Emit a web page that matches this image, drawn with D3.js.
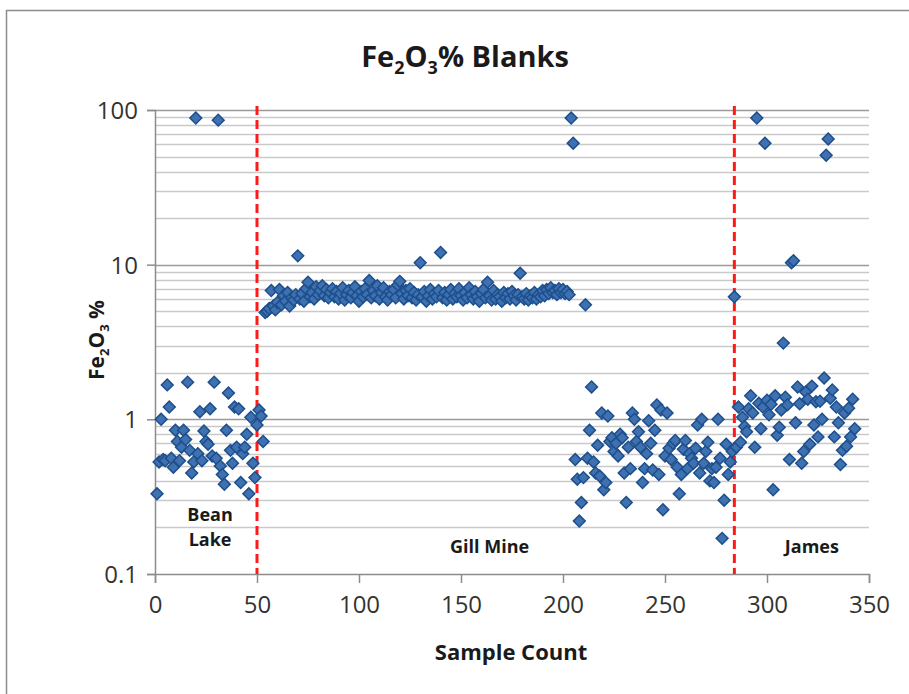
<!DOCTYPE html>
<html>
<head>
<meta charset="utf-8">
<script src="https://cdn.jsdelivr.net/npm/d3@7"></script>
<style>
  html, body { margin: 0; padding: 0; background: #fff; }
  svg { display: block; font-family: "Open Sans", "Liberation Sans", sans-serif; }
</style>
</head>
<body>
<svg id="chart" width="909" height="694"></svg>
<script>
// Fe2O3 % measured in blank samples, by sample count, grouped by project
const beanLakeStart = 1;
const beanLake = [
  0.33, 0.53, 1.0, 0.55, 0.54, 1.67, 1.2, 0.56, 0.49, 0.85,
  0.72, 0.54, 0.66, 0.85, 0.74, 1.74, 0.63, 0.45, 0.53, 88.7,
  0.6, 1.12, 0.54, 0.84, 0.72, 0.69, 1.17, 0.58, 1.74, 0.56,
  86, 0.5, 0.44, 0.38, 0.85, 1.48, 0.63, 0.52, 1.2, 0.66,
  1.17, 0.39, 0.6, 0.66, 0.8, 0.33, 1.03, 0.52, 0.42
];

const gillMineStart = 50;
const gillMine = [
  0.92, 1.15, 1.05, 0.72, 4.9, 5.0, 5.2, 6.8, 5.4, 5.1,
  5.7, 6.9, 5.5, 6.3, 5.8, 6.6, 5.4, 6.1, 5.9, 6.4,
  11.4, 6.0, 6.5, 5.8, 7.0, 7.7, 6.2, 6.6, 6.0, 7.2,
  6.4, 6.8, 7.3, 6.3, 6.9, 6.1, 6.6, 7.0, 6.2, 6.7,
  6.0, 6.5, 7.1, 5.9, 6.4, 6.8, 6.1, 6.6, 7.2, 6.3,
  5.8, 6.7, 6.2, 7.0, 6.4, 7.9, 6.1, 6.8, 6.3, 7.3,
  6.0, 6.6, 7.1, 6.2, 5.9, 6.7, 6.4, 6.9, 6.1, 7.4,
  7.8, 6.5, 6.0, 6.8, 6.3, 7.0, 6.1, 6.6, 5.9, 6.4,
  10.3, 6.2, 6.7, 5.8, 6.3, 6.9, 6.0, 6.5, 6.2, 6.8,
  12.0, 6.1, 6.6, 5.9, 6.4, 6.9, 6.0, 6.5, 6.2, 7.0,
  6.3, 5.9, 6.6, 6.1, 7.1, 6.4, 6.0, 6.7, 6.2, 5.8,
  6.5, 6.9, 6.1, 7.7, 6.3, 5.9, 6.8, 6.0, 6.4, 6.2,
  5.8, 6.6, 6.1, 6.5, 6.0, 6.7, 6.3, 5.9, 6.4, 8.8,
  6.2, 6.0, 6.5, 5.9, 6.3, 6.1, 6.6, 6.0, 6.4, 6.2,
  6.8, 6.3, 6.9, 6.5, 7.1, 6.6, 6.8, 6.4, 7.0, 6.6,
  6.9, 6.5, 6.7, 6.4, 88.7, 61, 0.55, 0.41, 0.22, 0.29,
  0.42, 5.5, 0.56, 0.85, 1.62, 0.53, 0.45, 0.68, 0.43, 1.1,
  0.35, 0.39, 1.05, 0.72, 0.76, 0.62, 0.7, 0.58, 0.8, 0.76,
  0.45, 0.29, 0.66, 0.48, 1.1, 1.0, 0.72, 0.83, 0.66, 0.39,
  0.48, 0.6, 0.98, 0.7, 0.47, 0.85, 1.24, 0.44, 1.15, 0.26,
  0.58, 1.1, 0.65, 0.55, 0.7, 0.73, 0.49, 0.33, 0.44, 0.64,
  0.73, 0.48, 0.6, 0.56, 0.52, 0.65, 0.92, 0.45, 1.0, 0.52,
  0.62, 0.71, 0.4, 0.48, 0.39, 0.49, 1.0, 0.56, 0.17, 0.3,
  0.69, 0.44, 0.53, 0.62
];

const jamesStart = 284;
const james = [
  6.2, 0.66, 1.2, 0.71, 1.03, 0.9, 0.83, 1.17, 1.42, 1.1,
  0.66, 88.7, 1.27, 0.87, 1.2, 61, 1.33, 1.07, 1.25, 0.35,
  1.42, 0.79, 0.89, 1.15, 3.11, 1.39, 1.24, 0.55, 10.3, 10.6,
  0.95, 1.62, 1.26, 0.52, 0.62, 1.5, 1.35, 0.69, 1.64, 0.92,
  1.3, 0.77, 1.31, 1.0, 1.85, 51, 65, 1.37, 1.55, 0.77,
  1.2, 0.95, 0.51, 0.63, 1.1, 0.67, 1.18, 0.77, 1.35, 0.87
];

// project boundaries (sample count) and region labels
const boundaries = [50, 284];
const regionLabels = [
  { lines: ["Bean", "Lake"], x: 27 },
  { lines: ["Gill Mine"], x: 164 },
  { lines: ["James"], x: 322 }
];

const xTicks = [0, 50, 100, 150, 200, 250, 300, 350];
const yTicks = [0.1, 1, 10, 100];

const svg = d3.select("#chart");
const W = 909, H = 694;
const plotLeft = 155, plotRight = 869, plotTop = 110, plotBottom = 574;

svg.append("rect").attr("width", W).attr("height", H).attr("fill", "#fff");
// chart frame
svg.append("rect")
  .attr("x", 6.5).attr("y", 10.5).attr("width", 1200).attr("height", 1200)
  .attr("fill", "none").attr("stroke", "#8c8c8c").attr("stroke-width", 1.5);

const x = d3.scaleLinear().domain([0, 350]).range([plotLeft, plotRight]);
const y = d3.scaleLog().domain([0.1, 100]).range([plotBottom, plotTop]);

// gridlines: minor 2..9 within each decade, then major decades
const minor = [];
[0.1, 1, 10].forEach(d => { for (let k = 2; k <= 9; k++) minor.push(+(d * k).toFixed(3)); });
svg.append("g").selectAll("line").data(minor).join("line")
  .attr("x1", plotLeft).attr("x2", plotRight)
  .attr("y1", d => Math.round(y(d)) + 0.5).attr("y2", d => Math.round(y(d)) + 0.5)
  .attr("stroke", "#c9c9c9").attr("stroke-width", 1.3);
svg.append("g").selectAll("line").data([1, 10, 100]).join("line")
  .attr("x1", plotLeft).attr("x2", plotRight)
  .attr("y1", d => Math.round(y(d)) + 0.5).attr("y2", d => Math.round(y(d)) + 0.5)
  .attr("stroke", "#9a9a9a").attr("stroke-width", 1.5);

// axes
const yAxis = d3.axisLeft(y).tickValues(yTicks).tickFormat(d => String(d)).tickSize(8).tickPadding(9);
const gy = svg.append("g").attr("transform", `translate(${plotLeft},0)`).call(yAxis);
const xAxis = d3.axisBottom(x).tickValues(xTicks).tickFormat(d3.format("d")).tickSize(9).tickPadding(13);
const gx = svg.append("g").attr("transform", `translate(0,${plotBottom})`).call(xAxis);
[gx, gy].forEach(g => {
  g.select(".domain").attr("stroke", "#8c8c8c").attr("stroke-width", 1.5);
  g.selectAll(".tick line").attr("stroke", "#8c8c8c").attr("stroke-width", 1.5);
  g.selectAll(".tick text").attr("fill", "#333").attr("font-size", 24)
    .attr("font-family", "'Open Sans', sans-serif");
});
gy.selectAll(".tick text").attr("dy", "0.35em");

// project boundary lines
svg.append("g").selectAll("line").data(boundaries).join("line")
  .attr("x1", d => x(d)).attr("x2", d => x(d))
  .attr("y1", y(100) - 4).attr("y2", plotBottom)
  .attr("stroke", "#ff1a1a").attr("stroke-width", 3)
  .attr("stroke-dasharray", "9,5");

// points
const points = [];
beanLake.forEach((v, i) => points.push({ n: beanLakeStart + i, v }));
gillMine.forEach((v, i) => points.push({ n: gillMineStart + i, v }));
james.forEach((v, i) => points.push({ n: jamesStart + i, v }));

const diamond = d3.symbol().type(d3.symbolSquare).size(70);
svg.append("g").selectAll("path").data(points).join("path")
  .attr("d", diamond)
  .attr("transform", d => `translate(${x(d.n)},${y(d.v)}) rotate(45)`)
  .attr("fill", "#3f70b0").attr("stroke", "#1c4f8c").attr("stroke-width", 1.5);

// region labels
const lab = svg.append("g").attr("font-weight", "bold").attr("font-size", 18)
  .attr("fill", "#1a1a1a").attr("text-anchor", "middle");
regionLabels.forEach(r => {
  const n = r.lines.length;
  r.lines.forEach((t, i) => {
    lab.append("text").attr("x", x(r.x))
      .attr("y", n === 1 ? 553 : 521 + i * 25).text(t);
  });
});

// title with subscripts
const title = svg.append("text").attr("x", 465).attr("y", 67)
  .attr("text-anchor", "middle").attr("font-size", 29).attr("font-weight", "bold")
  .attr("fill", "#1a1a1a");
title.append("tspan").text("Fe");
title.append("tspan").text("2").attr("font-size", 18).attr("dy", 7);
title.append("tspan").text("O").attr("dy", -7);
title.append("tspan").text("3").attr("font-size", 18).attr("dy", 7);
title.append("tspan").text("% Blanks").attr("dy", -7);

// y-axis title
const yt = svg.append("text").attr("transform", "translate(104,340) rotate(-90)")
  .attr("text-anchor", "middle").attr("font-size", 21).attr("font-weight", "bold")
  .attr("fill", "#1a1a1a");
yt.append("tspan").text("Fe");
yt.append("tspan").text("2").attr("font-size", 13).attr("dy", 5);
yt.append("tspan").text("O").attr("dy", -5);
yt.append("tspan").text("3").attr("font-size", 13).attr("dy", 5);
yt.append("tspan").text(" %").attr("dy", -5);

// x-axis title
svg.append("text").attr("x", 511).attr("y", 660).attr("text-anchor", "middle")
  .attr("font-size", 22).attr("font-weight", "bold").attr("fill", "#1a1a1a")
  .text("Sample Count");
</script>
</body>
</html>
